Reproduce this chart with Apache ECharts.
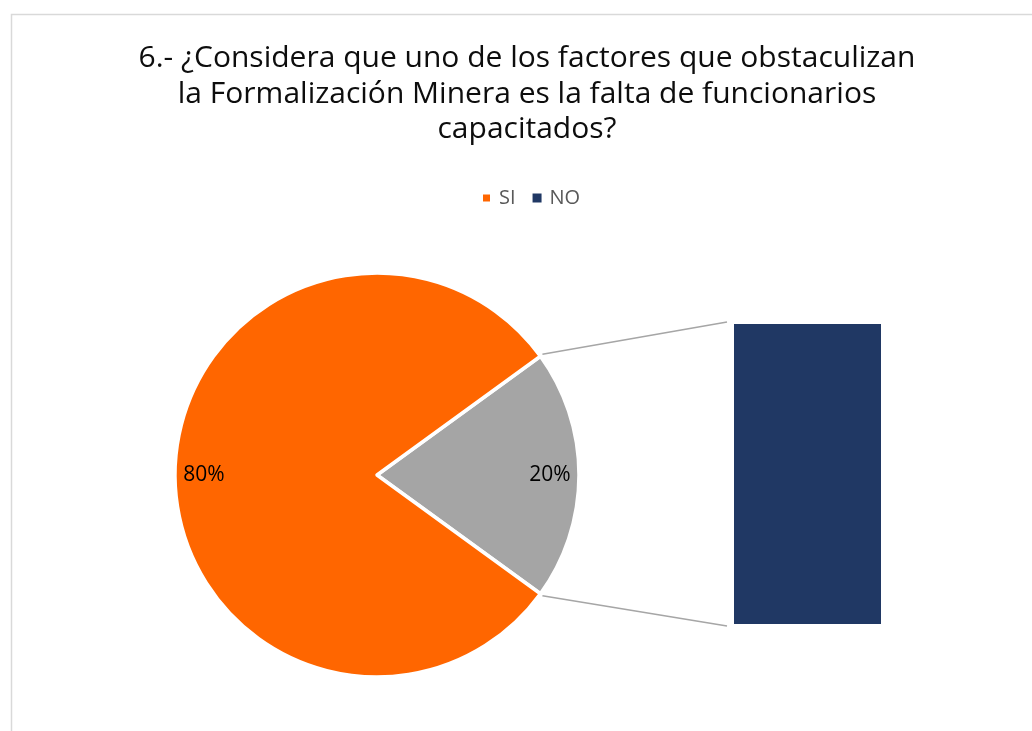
<!DOCTYPE html>
<html>
<head>
<meta charset="utf-8">
<script src="https://cdn.jsdelivr.net/npm/echarts@6/dist/echarts.min.js"></script>
<style>
  html, body { margin: 0; padding: 0; background: #ffffff; }
  #chart { width: 1032px; height: 731px; }
</style>
</head>
<body>
<div id="chart"></div>
<script>
// datos de la encuesta (pregunta 6)
const titleText = '6.- ¿Considera que uno de los factores que obstaculizan\nla Formalización Minera es la falta de funcionarios\ncapacitados?';
const legendNames = ['SI', 'NO'];
const pieNames = ['Otro', 'SI'];      // "Otro" = porción que se abre en la barra
const pieValues = [20, 80];           // %
const barCategories = ['NO'];
const barValues = [20];               // %

const colors = { SI: '#ff6600', Otro: '#a5a5a5', NO: '#203864' };

// geometría del gráfico
const pieCenter = [377, 475];
const pieRadius = 202;
const barGrid = { left: 734, top: 324, width: 147, height: 300 };

const chart = echarts.init(document.getElementById('chart'));

// ángulo de la porción "Otro" centrada a la derecha
const otherAngle = 360 * pieValues[0] / (pieValues[0] + pieValues[1]);
const startAngle = otherAngle / 2;

const option = {
  animation: false,
  backgroundColor: '#ffffff',
  color: [colors.SI, colors.NO],
  graphic: [
    {
      type: 'text',
      x: 527,
      y: 41,
      style: {
        text: titleText,
        align: 'center',
        verticalAlign: 'top',
        fontFamily: 'Open Sans',
        fontSize: 30,
        lineHeight: 35.5,
        fill: '#0d0d0d'
      }
    }
  ],
  legend: {
    data: legendNames,
    left: 481,
    top: 188,
    padding: 0,
    icon: 'rect',
    itemWidth: 9,
    itemHeight: 9,
    itemGap: 17,
    textStyle: { fontFamily: 'Open Sans', fontSize: 20, color: '#595959', padding: [0, 0, 0, 3] }
  },
  grid: {
    left: barGrid.left,
    top: barGrid.top,
    width: barGrid.width,
    height: barGrid.height
  },
  xAxis: { type: 'category', data: barCategories, show: false },
  yAxis: { type: 'value', min: 0, max: barValues[0], show: false },
  series: [
    {
      name: 'Pregunta 6',
      type: 'pie',
      center: pieCenter,
      radius: [0, pieRadius],
      startAngle: startAngle,
      clockwise: true,
      silent: true,
      label: { show: false },
      labelLine: { show: false },
      itemStyle: { borderColor: '#ffffff', borderWidth: 3.5 },
      data: pieNames.map((n, i) => ({ name: n, value: pieValues[i], itemStyle: { color: colors[n] } }))
    },
    {
      // capa transparente sólo para colocar las etiquetas cerca del borde
      name: 'etiquetas',
      type: 'pie',
      center: pieCenter,
      radius: [140, 200],
      startAngle: startAngle,
      clockwise: true,
      silent: true,
      itemStyle: { color: 'rgba(0,0,0,0)' },
      label: {
        show: true,
        position: 'inside',
        formatter: p => p.value + '%',
        fontFamily: 'Open Sans',
        fontSize: 21,
        color: '#000000'
      },
      labelLine: { show: false },
      data: pieNames.map((n, i) => ({ name: n + ' ', value: pieValues[i] }))
    },
    {
      name: 'NO',
      type: 'bar',
      barWidth: '100%',
      silent: true,
      itemStyle: { color: colors.NO },
      label: { show: false },
      data: barValues
    }
  ]
};

chart.setOption(option);

// líneas de unión entre la porción y la barra
const rad = startAngle * Math.PI / 180;
const px = pieCenter[0] + pieRadius * Math.cos(rad);
const pyTop = pieCenter[1] - pieRadius * Math.sin(rad);
const pyBot = pieCenter[1] + pieRadius * Math.sin(rad);
const bx = barGrid.left - 7;
const byTop = barGrid.top - 2;
const byBot = barGrid.top + barGrid.height + 2;

chart.setOption({
  graphic: [
    option.graphic[0],
    {
      type: 'rect',
      shape: { x: 11.5, y: 14.5, width: 1040, height: 740 },
      style: { fill: 'none', stroke: '#d9d9d9', lineWidth: 1.5 },
      z: -10
    },
    {
      type: 'line',
      shape: { x1: px + 2, y1: pyTop - 2, x2: bx, y2: byTop },
      style: { stroke: '#a6a6a6', lineWidth: 1.5 }
    },
    {
      type: 'line',
      shape: { x1: px + 2, y1: pyBot + 2, x2: bx, y2: byBot },
      style: { stroke: '#a6a6a6', lineWidth: 1.5 }
    }
  ]
});
</script>
</body>
</html>
